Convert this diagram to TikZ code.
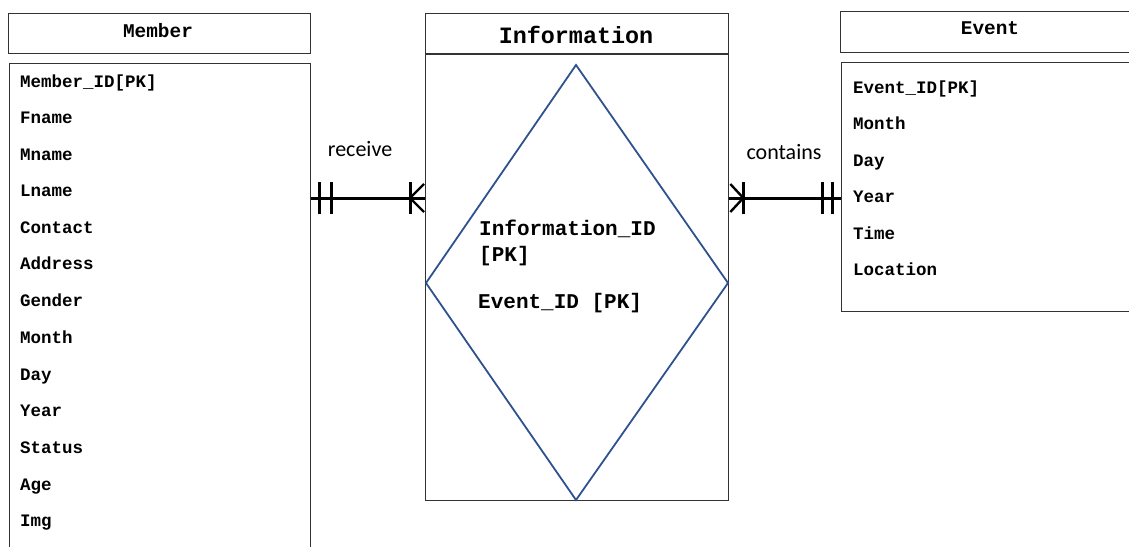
\documentclass[tikz,border=0pt]{standalone}
\usepackage{fontspec}
\newfontfamily\cour{Liberation Mono}
\newfontfamily\calib{Carlito}
\begin{document}
\begin{tikzpicture}[x=1pt,y=-1pt,
  box/.style={draw=black!80,line width=1.3pt,inner sep=0pt,anchor=north west},
  attr/.style={font=\cour\bfseries\fontsize{17.5}{20}\selectfont,anchor=base west,inner sep=0pt},
  hdr/.style={font=\cour\bfseries\fontsize{19.4}{22}\selectfont,anchor=base,inner sep=0pt},
  rel/.style={font=\calib\fontsize{22}{26}\selectfont,anchor=base,inner sep=0pt},
  erline/.style={line width=3pt,draw=black},
  dia/.style={draw={rgb,255:red,47;green,82;blue,143},line width=1.8pt,line join=miter}]
\useasboundingbox (0,0) rectangle (1129,546);
\clip (0,0) rectangle (1129,546);
% Member
\node[box,minimum width=302pt,minimum height=40pt] (memhdr) at (8,13) {};
\node[hdr] (memtitle) at (158,37) {Member};
\node[box,minimum width=301pt,minimum height=520pt] (memlist) at (9,63) {};
\foreach \t/\y [count=\i] in {Member\_ID[PK]/87,Fname/123,Mname/160,Lname/196,Contact/233,Address/269,Gender/306,Month/343,Day/380,Year/416,Status/453,Age/490,Img/526}
  \node[attr] (m\i) at (20,\y) {\t};
% Information
\node[box,minimum width=303pt,minimum height=487pt] (info) at (425,13) {};
\draw[line width=1.3pt,draw=black!80] (info.west |- 0,54) coordinate (infodivl) -- (info.east |- 0,54) coordinate (infodivr);
\node[hdr,font=\cour\bfseries\fontsize{23.4}{26}\selectfont] (infotitle) at (576,43) {Information};
\coordinate (dt) at (576,65);
\coordinate (dr) at (728,283);
\coordinate (db) at (576,500);
\coordinate (dl) at (426,283);
\draw[dia] (dt) -- (dr) -- (db) -- (dl) -- cycle;
\node[attr,font=\cour\bfseries\fontsize{21}{24}\selectfont] (i1) at (479,235) {Information\_ID};
\node[attr,font=\cour\bfseries\fontsize{21}{24}\selectfont] (i2) at (479,261) {[PK]};
\node[attr,font=\cour\bfseries\fontsize{21}{24}\selectfont] (i3) at (478,308) {Event\_ID [PK]};
% Event
\node[box,minimum width=320pt,minimum height=41pt] (evhdr) at (840,11) {};
\node[hdr] (evtitle) at (990,34) {Event};
\node[box,minimum width=320pt,minimum height=249pt] (evlist) at (841,62) {};
\foreach \t/\y [count=\i] in {Event\_ID[PK]/93,Month/129.5,Day/166,Year/202.5,Time/239,Location/275.5}
  \node[attr] (e\i) at (853,\y) {\t};
% relationship labels
\node[rel] (lrec) at (360,156) {receive};
\node[rel] (lcon) at (784,159) {contains};
% connector left
\coordinate (ry) at (0,198);
\draw[erline] (memlist.east |- ry) -- (info.west |- ry);
\draw[erline] ([xshift=8pt]memlist.east |- ry) ++(0,-16) -- ++(0,32);
\draw[erline] ([xshift=20pt]memlist.east |- ry) ++(0,-16) -- ++(0,32);
\draw[erline] ([xshift=-15pt]info.west |- ry) ++(0,-16) -- ++(0,32);
\draw[line width=2.4pt] ([xshift=-1pt]info.west |- 0,184) -- ([xshift=-15pt]info.west |- ry) -- ([xshift=-1pt]info.west |- 0,212);
% connector right
\draw[erline] (info.east |- ry) -- (evlist.west |- ry);
\draw[erline] ([xshift=14pt]info.east |- ry) ++(0,-16) -- ++(0,32);
\draw[line width=2.4pt] ([xshift=1pt]info.east |- 0,184) -- ([xshift=14pt]info.east |- ry) -- ([xshift=1pt]info.east |- 0,212);
\draw[erline] ([xshift=-19pt]evlist.west |- ry) ++(0,-16) -- ++(0,32);
\draw[erline] ([xshift=-9pt]evlist.west |- ry) ++(0,-16) -- ++(0,32);
\end{tikzpicture}
\end{document}
